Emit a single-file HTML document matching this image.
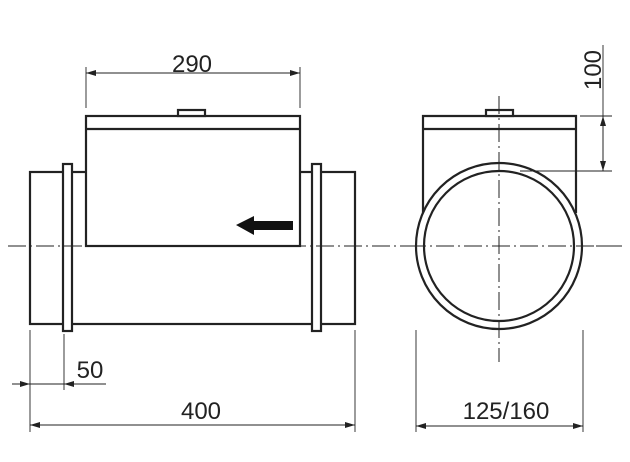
<!DOCTYPE html>
<html><head><style>body{margin:0;background:#fff}svg{display:block}text{font-family:"Liberation Sans",sans-serif;fill:#222}</style></head>
<body>
<svg width="630" height="462" viewBox="0 0 630 462">
<defs>
<marker id="a" markerWidth="10" markerHeight="6" refX="10" refY="3" orient="auto-start-reverse" markerUnits="userSpaceOnUse"><path d="M0,0 L10,3 L0,6 Z" fill="#222"/></marker>
</defs>
<g stroke="#222" fill="none">
<g stroke-width="2.2">
<rect x="30" y="172" width="325" height="152" fill="#fff"/>
<rect x="63" y="164" width="9" height="167" fill="#fff"/>
<rect x="312" y="164" width="9" height="167" fill="#fff"/>
<rect x="86" y="116" width="214" height="130" fill="#fff"/>
<line x1="86" y1="129" x2="300" y2="129"/>
<rect x="178" y="110" width="27" height="6" fill="#fff"/>
</g>
<line x1="8" y1="246" x2="622" y2="246" stroke-width="1" stroke-dasharray="18,4,2,4"/>
<g stroke-width="2.2">
<path d="M423,213 L423,116 L576,116 L576,213"/>
<line x1="423" y1="129" x2="576" y2="129"/>
<rect x="486" y="110" width="27" height="6" fill="#fff"/>
<circle cx="499" cy="246" r="83" fill="#fff"/>
<circle cx="499" cy="246" r="75"/>
</g>
<line x1="499" y1="96" x2="499" y2="362" stroke-width="1" stroke-dasharray="18,4,2,4"/>
<line x1="408" y1="246" x2="622" y2="246" stroke-width="1" stroke-dasharray="18,4,2,4"/>
<g stroke-width="0.9">
<line x1="86" y1="67" x2="86" y2="108"/><line x1="300" y1="67" x2="300" y2="108"/>
<line x1="86" y1="73" x2="300" y2="73" marker-start="url(#a)" marker-end="url(#a)"/>
<line x1="30" y1="330" x2="30" y2="432"/><line x1="64" y1="334" x2="64" y2="390"/><line x1="355" y1="330" x2="355" y2="432"/>
<line x1="12" y1="384" x2="30" y2="384" marker-end="url(#a)"/>
<line x1="106" y1="384" x2="64" y2="384" marker-end="url(#a)"/><line x1="30" y1="384" x2="64" y2="384"/>
<line x1="30" y1="425" x2="355" y2="425" marker-start="url(#a)" marker-end="url(#a)"/>
<line x1="416" y1="330" x2="416" y2="432"/><line x1="583" y1="330" x2="583" y2="432"/>
<line x1="416" y1="426" x2="583" y2="426" marker-start="url(#a)" marker-end="url(#a)"/>
<line x1="580" y1="116" x2="612" y2="116"/><line x1="520" y1="171" x2="612" y2="171"/>
<line x1="603" y1="45" x2="603" y2="171"/>
<line x1="603" y1="116" x2="603" y2="171" marker-start="url(#a)" marker-end="url(#a)"/>
</g>
</g>
<path d="M236,225 L254,216 L254,221 L293,221 L293,230 L254,230 L254,235 Z" fill="#111"/>
<text x="192" y="72" font-size="24" text-anchor="middle">290</text>
<text x="90" y="378" font-size="24" text-anchor="middle">50</text>
<text x="201" y="419" font-size="24" text-anchor="middle">400</text>
<text x="506" y="419" font-size="24" text-anchor="middle">125/160</text>
<text transform="translate(601,70) rotate(-90)" font-size="24" text-anchor="middle">100</text>
</svg>
</body></html>
